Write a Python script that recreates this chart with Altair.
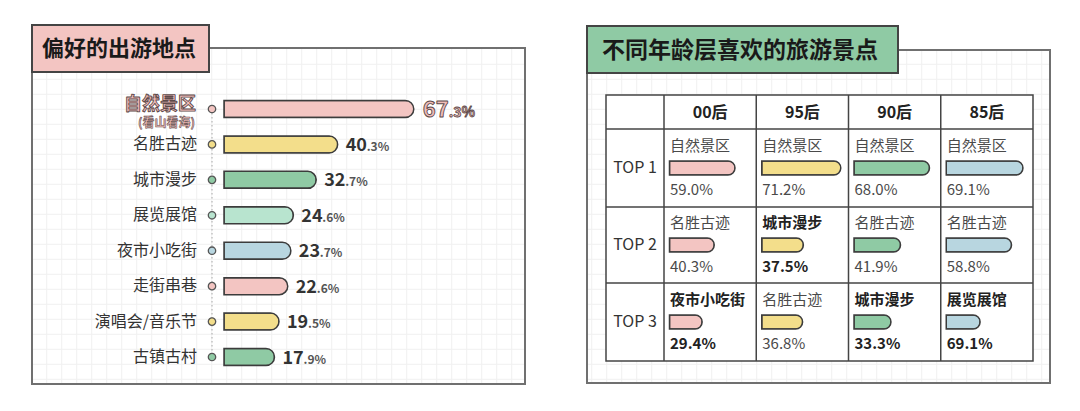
import altair as alt
import pandas as pd

# ---------------- data: left panel ----------------
categories = ["自然景区", "名胜古迹", "城市漫步", "展览展馆", "夜市小吃街", "走街串巷", "演唱会/音乐节", "古镇古村"]
shares = [67.3, 40.3, 32.7, 24.6, 23.7, 22.6, 19.5, 17.9]
first_note = "(看山看海)"
left_title = "偏好的出游地点"

# ---------------- data: right panel ----------------
right_title = "不同年龄层喜欢的旅游景点"
generations = ["00后", "95后", "90后", "85后"]
ranks = ["TOP 1", "TOP 2", "TOP 3"]
names_00 = ["自然景区", "名胜古迹", "夜市小吃街"]
names_95 = ["自然景区", "城市漫步", "名胜古迹"]
names_90 = ["自然景区", "名胜古迹", "城市漫步"]
names_85 = ["自然景区", "名胜古迹", "展览展馆"]
pct_00 = [59.0, 40.3, 29.4]
pct_95 = [71.2, 37.5, 36.8]
pct_90 = [68.0, 41.9, 33.3]
pct_85 = [69.1, 58.8, 69.1]
# bar lengths as drawn in the picture (the 85后 TOP 3 bar is drawn at about 30%)
bar_00 = [59.0, 40.3, 29.4]
bar_95 = [71.2, 37.5, 36.8]
bar_90 = [68.0, 41.9, 33.3]
bar_85 = [69.1, 58.8, 30.5]
bold_00 = [False, False, True]
bold_95 = [False, True, False]
bold_90 = [False, False, True]
bold_85 = [False, False, True]

# ---------------- styles ----------------
FONT = "Noto Sans CJK SC"
PINK = "#f3c5c2"
YELLOW = "#f3de8b"
GREEN = "#8fcaa4"
MINT = "#b8e4cf"
BLUE = "#b8d6e0"
INK = "#3c3c3c"
PINK_TXT = "#f0bcb8"
OUTLINE = "#5e4a4a"
GRID = "#f0f0f0"
left_palette = [PINK, YELLOW, GREEN, MINT, BLUE, PINK, YELLOW, GREEN]
gen_palette = [PINK, YELLOW, GREEN, BLUE]

M = 8  # page margin -> plot origin


def px(v):
    return v - M


one = pd.DataFrame({"k": [0]})


def box(x1, x2, y1, y2, fill, stroke, sw):
    return alt.Chart(one).mark_rect(fill=fill, stroke=stroke, strokeWidth=sw).encode(
        x=alt.value(px(x1)), x2=alt.value(px(x2)), y=alt.value(px(y1)), y2=alt.value(px(y2))
    )


def vgrid(x1, x2, y1, y2, first):
    return alt.Chart(alt.sequence(px(first), px(x2), 15)).mark_rule(color=GRID, strokeWidth=1).encode(
        x=alt.X("data:Q", scale=None), y=alt.value(px(y1)), y2=alt.value(px(y2))
    )


def hgrid(x1, x2, y1, y2, first):
    return alt.Chart(alt.sequence(px(first), px(y2), 15)).mark_rule(color=GRID, strokeWidth=1).encode(
        y=alt.Y("data:Q", scale=None), x=alt.value(px(x1)), x2=alt.value(px(x2))
    )


def title_text(txt, x, y, size):
    return alt.Chart(pd.DataFrame({"t": [txt]})).mark_text(
        font=FONT, fontSize=size, fontWeight="bold", color="#1a1a1a", align="left", baseline="middle"
    ).encode(x=alt.value(px(x)), y=alt.value(px(y)), text="t:N")


layers = []

# ---------------- left panel frame ----------------
layers.append(box(32, 525, 48, 384, "white", "#707070", 2))
layers.append(vgrid(33, 524, 49, 383, 46.7))
layers.append(hgrid(33, 524, 49, 383, 64.3))
layers.append(box(32, 209, 25, 72, PINK, "#444444", 2))
layers.append(title_text(left_title, 42, 48.5, 22))

# ---------------- left panel chart ----------------
ldf = pd.DataFrame({"cat": categories, "v": shares, "idx": list(range(len(categories))),
                    "note": [first_note] + [""] * (len(categories) - 1)})
xl = alt.Scale(domain=[0, 100], range=[px(224), px(224) + 282])
yl = alt.Scale(type="point", domain=categories, range=[px(109), px(357)], padding=0)
base_l = alt.Chart(ldf).transform_calculate(
    ip="'' + floor(datum.v)",
    dp="'.' + round((datum.v - floor(datum.v)) * 10) + '%'",
)
Y_L = alt.Y("cat:N", scale=yl, axis=None, sort=categories)
X_L = alt.X("v:Q", scale=xl, axis=None)

layers.append(alt.Chart(one).mark_rule(color="#a8a8a8", strokeDash=[1.5, 2.5], strokeWidth=1).encode(
    x=alt.value(px(212)), y=alt.value(px(109)), y2=alt.value(px(357))))
layers.append(base_l.mark_bar(size=17, cornerRadiusEnd=8.5, stroke=INK, strokeWidth=1.5).encode(
    x=X_L, y=Y_L, color=alt.Color("cat:N", scale=alt.Scale(domain=categories, range=left_palette), legend=None)))
layers.append(base_l.mark_circle(size=55, stroke="#555555", strokeWidth=1.3, opacity=1).encode(
    x=alt.value(px(212)), y=Y_L,
    color=alt.Color("cat:N", scale=alt.Scale(domain=categories, range=left_palette), legend=None)))

# normal category labels
layers.append(base_l.transform_filter("datum.idx > 0").mark_text(
    font=FONT, fontSize=16, color="#333333", align="right", baseline="middle").encode(
    x=alt.value(px(197)), y=Y_L, text="cat:N"))
# normal value labels
layers.append(base_l.transform_filter("datum.idx > 0").mark_text(
    font=FONT, fontSize=18, fontWeight="bold", color="#333333", align="left", baseline="alphabetic",
    dx=8, dy=6.5).encode(x=X_L, y=Y_L, text="ip:N"))
layers.append(base_l.transform_filter("datum.idx > 0").mark_text(
    font=FONT, fontSize=12, fontWeight="bold", color="#555555", align="left", baseline="alphabetic",
    dx=29, dy=6.5).encode(x=X_L, y=Y_L, text="dp:N"))

# highlighted first category (pink text with a thin dark outline)
first = base_l.transform_filter("datum.idx == 0")
kw = dict(font=FONT, fontWeight="bold", fill=PINK_TXT, stroke=OUTLINE, strokeJoin="round")
layers.append(first.mark_text(fontSize=18, align="right", baseline="middle", dy=-4.5, strokeWidth=0.9, **kw).encode(
    x=alt.value(px(196)), y=Y_L, text="cat:N"))
layers.append(first.mark_text(fontSize=12, align="right", baseline="middle", dy=14, strokeWidth=0.55, **kw).encode(
    x=alt.value(px(195)), y=Y_L, text="note:N"))
layers.append(first.mark_text(fontSize=22, align="left", baseline="alphabetic", dx=9, dy=8, strokeWidth=0.9, **kw).encode(
    x=X_L, y=Y_L, text="ip:N"))
layers.append(first.mark_text(fontSize=14, align="left", baseline="alphabetic", dx=35, dy=8, strokeWidth=0.8, **kw).encode(
    x=X_L, y=Y_L, text="dp:N"))

# ---------------- right panel frame ----------------
layers.append(box(587, 1050, 50, 383, "white", "#707070", 2))
layers.append(vgrid(588, 1049, 51, 382, 591.7))
layers.append(hgrid(588, 1049, 51, 382, 64.3))
layers.append(box(587, 898, 26, 73, GREEN, "#444444", 2))
layers.append(title_text(right_title, 602, 50.5, 23))

# table frame and lines
TL, TR, TT, TB = 606, 1033, 95, 361
layers.append(box(TL, TR, TT, TB, "white", "#444444", 1.5))
col_edges = [664 + i * (TR - 664) / 4 for i in range(4)]
for xe in col_edges:
    layers.append(alt.Chart(one).mark_rule(color="#444444", strokeWidth=1.5).encode(
        x=alt.value(px(xe)), y=alt.value(px(TT)), y2=alt.value(px(TB))))
for ye in [129, 207, 283]:
    layers.append(alt.Chart(one).mark_rule(color="#444444", strokeWidth=1.5).encode(
        y=alt.value(px(ye)), x=alt.value(px(TL)), x2=alt.value(px(TR))))

# ---------------- right table data ----------------
rows = []
for g, nm, pc, br, bd in zip(generations,
                             [names_00, names_95, names_90, names_85],
                             [pct_00, pct_95, pct_90, pct_85],
                             [bar_00, bar_95, bar_90, bar_85],
                             [bold_00, bold_95, bold_90, bold_85]):
    for r, n, p, b, f in zip(ranks, nm, pc, br, bd):
        rows.append({"gen": g, "rank": r, "name": n, "pct": p, "bar": b, "bold": f})
rdf = pd.DataFrame(rows)

xg = alt.Scale(type="band", domain=generations, range=[px(664), px(TR)], paddingInner=0, paddingOuter=0)
yr = alt.Scale(type="point", domain=ranks, range=[px(168), px(322)], padding=0)
Y_R = alt.Y("rank:N", scale=yr, axis=None, sort=ranks)
X_G0 = alt.X("gen:N", scale=xg, axis=None, bandPosition=0, sort=generations)

# header and row labels
layers.append(alt.Chart(pd.DataFrame({"gen": generations})).mark_text(
    font=FONT, fontSize=16, fontWeight="bold", color="#222222", baseline="middle").encode(
    x=alt.X("gen:N", scale=xg, axis=None, sort=generations), y=alt.value(px(113)), text="gen:N"))
layers.append(alt.Chart(pd.DataFrame({"rank": ranks})).mark_text(
    font=FONT, fontSize=16, color="#333333", baseline="middle").encode(
    x=alt.value(px(635)), y=Y_R, text="rank:N"))

# bars, one scale per generation column
bw = (TR - 664) / 4
for i, g in enumerate(generations):
    start = px(664 + i * bw + 5.5)
    layers.append(alt.Chart(rdf).transform_filter(alt.datum.gen == g).mark_bar(
        size=14, cornerRadiusEnd=7, fill=gen_palette[i], stroke=INK, strokeWidth=1.5).encode(
        x=alt.X("bar:Q", scale=alt.Scale(domain=[0, 100], range=[start, start + 111]), axis=None),
        y=Y_R))

# names and value labels
base_r = alt.Chart(rdf).transform_calculate(label="format(datum.pct, '.1f') + '%'")
for flag, weight, col in [(False, "normal", "#4a4a4a"), (True, "bold", "#222222")]:
    sub = base_r.transform_filter(alt.datum.bold == flag)
    layers.append(sub.mark_text(font=FONT, fontSize=15, fontWeight=weight, color=col, align="left",
                                baseline="middle", dx=6, dy=-22).encode(x=X_G0, y=Y_R, text="name:N"))
    layers.append(sub.mark_text(font=FONT, fontSize=15, fontWeight=weight, color=col, align="left",
                                baseline="middle", dx=6, dy=22).encode(x=X_G0, y=Y_R, text="label:N"))

chart = alt.layer(*layers).resolve_scale(x="independent", y="independent").properties(
    width=1064, height=395, autosize=alt.AutoSizeParams(type="none"), padding=0
).configure_view(strokeWidth=0)

chart.save("out.html", embed_options={"renderer": "svg", "actions": False})
